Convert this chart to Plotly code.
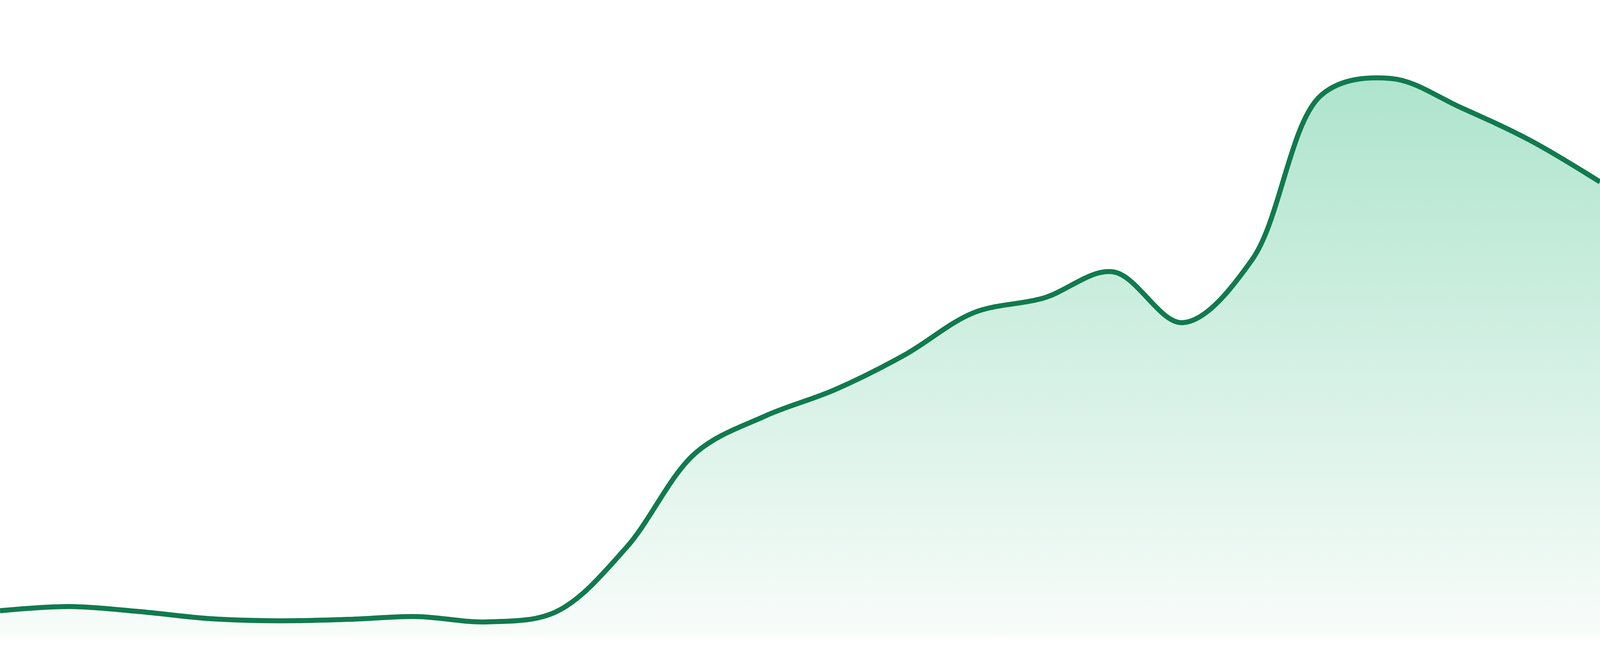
import plotly.graph_objects as go

# Data (arbitrary units, peak = 100)
periods = list(range(24))
values = [4.75, 5.5, 4.6, 3.35, 2.95, 3.2, 3.7, 2.75, 4.6, 16.0, 33.0, 39.6,
          44.3, 50.5, 58.1, 60.7, 65.4, 56.3, 67.6, 97.1, 100.0, 94.8, 88.9, 81.5]

LINE_COLOR = "#117a4f"
FILL_BOTTOM = "rgb(248,252,250)"
FILL_TOP = "rgb(174,228,205)"

fig = go.Figure()
fig.add_trace(go.Scatter(
    x=periods,
    y=values,
    mode="lines",
    line=dict(color=LINE_COLOR, width=15, shape="spline", smoothing=1.0),
    fill="tozeroy",
    fillgradient=dict(
        type="vertical",
        colorscale=[[0, FILL_BOTTOM], [1, FILL_TOP]],
        start=0,
        stop=100,
    ),
    hoverinfo="skip",
    showlegend=False,
))

fig.update_layout(
    width=4800,
    height=1680,
    margin=dict(l=0, r=0, t=0, b=0),
    paper_bgcolor="white",
    plot_bgcolor="white",
    showlegend=False,
    xaxis=dict(range=[0, 23], visible=False, showgrid=False, zeroline=False),
    yaxis=dict(range=[-3.354, 114.05], visible=False, showgrid=False, zeroline=False),
)

# Fit the figure exactly to the browser viewport (whatever its CSS size is)
fit_script = """
(function(){
  document.documentElement.style.margin='0';
  document.documentElement.style.overflow='hidden';
  document.body.style.margin='0';
  document.body.style.overflow='hidden';
  var gd = document.getElementById('{plot_id}');
  var w = window.innerWidth, h = window.innerHeight;
  gd.style.width = w + 'px';
  gd.style.height = h + 'px';
  Plotly.relayout(gd, {width: w, height: h});
  Plotly.restyle(gd, {'line.width': 15 * w / 4800});
})();
"""

fig.write_html(
    "out.html",
    config={"displayModeBar": False},
    post_script=fit_script,
)
